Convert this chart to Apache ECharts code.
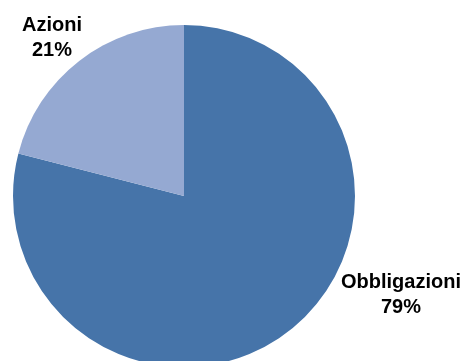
<!DOCTYPE html>
<html><head><meta charset="utf-8">
<script src="https://cdn.jsdelivr.net/npm/echarts@6/dist/echarts.min.js"></script>
<style>html,body{margin:0;padding:0;background:#fff}#c{width:465px;height:361px}</style>
</head><body><div id="c"></div>
<script>
const categories = ['Obbligazioni', 'Azioni'];
const values = [79, 21];
const colors = ['#4674A9', '#95A9D2'];
const labelPos = [[401, 295], [52, 38]];

const chart = echarts.init(document.getElementById('c'), null, {renderer: 'canvas'});
chart.setOption({
  animation: false,
  series: [{
    type: 'pie',
    center: [184, 196],
    radius: [0, 171],
    startAngle: 90,
    clockwise: true,
    data: categories.map((n, i) => ({name: n, value: values[i], itemStyle: {color: colors[i]}})),
    itemStyle: {borderWidth: 0},
    emphasis: {disabled: true},
    label: {
      show: true,
      position: 'outside',
      formatter: '{b}\n{d}%',
      fontFamily: 'Liberation Sans, Arial, sans-serif',
      fontWeight: 'bold',
      fontSize: 20,
      lineHeight: 25,
      color: '#000',
      align: 'center',
      overflow: 'none',
      width: 200
    },
    labelLine: {show: false},
    labelLayout: function (p) {
      const pos = labelPos[p.dataIndex];
      return {x: pos[0], y: pos[1], align: 'center', verticalAlign: 'middle'};
    }
  }]
});
</script></body></html>
